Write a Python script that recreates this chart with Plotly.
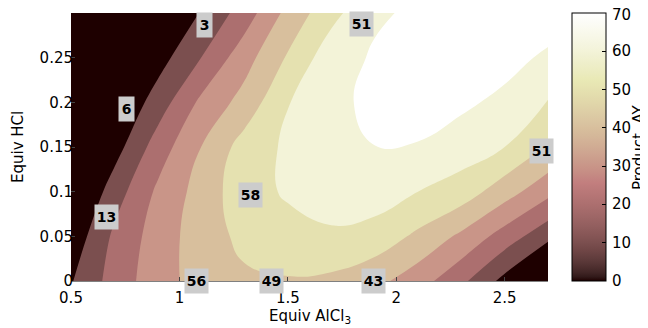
import numpy as np
import plotly.graph_objects as go

# ---- data ----
x_equiv_alcl3 = [0.5, 0.7, 0.9, 1.1, 1.3, 1.5, 1.7, 1.9, 2.1, 2.3, 2.5, 2.7]
y_equiv_hcl = [0.0, 0.05, 0.1, 0.15, 0.2, 0.25, 0.3]
ay_y000 = [9.2, 24.2, 35.8, 44.1, 48.3, 49.2, 47.9, 43.1, 34.5, 22.4, 6.9, -11.9]
ay_y005 = [3.0, 21.9, 34.6, 45.1, 52.5, 56.5, 58.5, 56.0, 48.0, 38.0, 25.7, 13.0]
ay_y010 = [-4.8, 15.2, 31.8, 44.0, 56.0, 61.2, 64.5, 65.0, 60.0, 55.5, 44.5, 33.0]
ay_y015 = [-13.3, 5.7, 24.75, 40.0, 54.3, 61.7, 66.5, 69.9, 69.5, 65.0, 60.0, 49.5]
ay_y020 = [-16.0, -0.8, 14.6, 32.1, 43.7, 59.6, 67.5, 72.3, 73.5, 72.0, 67.5, 59.5]
ay_y025 = [-22.0, -8.5, 5.7, 20.0, 36.0, 51.1, 66.0, 71.0, 74.6, 75.5, 73.7, 68.1]
ay_y030 = [-31.0, -17.0, -3.3, 10.7, 24.7, 43.0, 56.7, 68.7, 71.5, 74.0, 75.5, 76.0]
contour_levels = [10, 20, 30, 40, 50, 60, 70]

label_x = [1.118, 0.754, 0.666, 1.330, 1.081, 1.427, 1.893, 1.838, 2.672]
label_y = [0.287, 0.192, 0.072, 0.096, 0.0, 0.0, 0.0, 0.288, 0.145]
label_text = ["3", "6", "13", "58", "56", "49", "43", "51", "51"]

x_ticks = [0.5, 1, 1.5, 2, 2.5]
y_ticks = [0, 0.05, 0.1, 0.15, 0.2, 0.25]
cbar_ticks = [0, 10, 20, 30, 40, 50, 60, 70]
cmin, cmax = 0, 70

z_grid = [ay_y000, ay_y005, ay_y010, ay_y015, ay_y020, ay_y025, ay_y030]


# ---- MATLAB "pink" colormap ----
def matlab_pink(m=64):
    n = int(3 / 8 * m)
    r_hot = np.r_[np.arange(1, n + 1) / n, np.ones(m - n)]
    g_hot = np.r_[np.zeros(n), np.arange(1, n + 1) / n, np.ones(m - 2 * n)]
    b_hot = np.r_[np.zeros(2 * n), np.arange(1, m - 2 * n + 1) / (m - 2 * n)]
    gray = np.linspace(0, 1, m)
    return np.sqrt((2 * gray[:, None] + np.c_[r_hot, g_hot, b_hot]) / 3)


PINK = matlab_pink(64)


def rgb(c):
    return "rgb(%d,%d,%d)" % tuple(int(round(v * 255)) for v in c)


def pink_at(v):
    idx = int(np.clip(np.floor((v - cmin) / (cmax - cmin) * 64), 0, 63))
    return rgb(PINK[idx])


band_values = [0] + contour_levels
nb = len(band_values)
band_scale = [[i / (nb - 1), pink_at(v)] for i, v in enumerate(band_values)]
cbar_scale = [[i / 63, rgb(PINK[i])] for i in range(64)]

FONT = "DejaVu Sans, Liberation Sans, Arial, sans-serif"

# page has an 8px body margin: figure is 640x320 and sits at (8, 8)
W, H = 640, 320
ML, MT, PW, PH = 63, 5, 477, 268
MR = W - ML - PW
MB = H - MT - PH
CB_LEFT, CB_THICK = 564, 34

fig = go.Figure()
fig.add_trace(go.Contour(
    x=x_equiv_alcl3, y=y_equiv_hcl, z=z_grid,
    contours=dict(start=contour_levels[0], end=contour_levels[-1],
                  size=contour_levels[1] - contour_levels[0],
                  coloring="fill", showlines=False),
    line=dict(width=0, smoothing=1.3),
    colorscale=band_scale, showscale=False, hoverinfo="skip",
))

# dummy trace carrying the continuous colorbar
fig.add_trace(go.Scatter(
    x=[0.6], y=[-1], mode="markers", hoverinfo="skip", showlegend=False,
    marker=dict(color=[0], cmin=cmin, cmax=cmax, colorscale=cbar_scale,
                showscale=True, size=1,
                colorbar=dict(
                    x=(CB_LEFT - ML) / PW, xanchor="left", xref="paper", xpad=0,
                    y=0.5, yanchor="middle", len=1, lenmode="fraction", ypad=0,
                    thickness=CB_THICK, thicknessmode="pixels",
                    outlinecolor="black", outlinewidth=1,
                    tickmode="array", tickvals=cbar_ticks,
                    ticks="inside", ticklen=4, tickcolor="black",
                    showticklabels=False,
                )),
))

# colorbar tick labels (as text next to the bar)
for t in cbar_ticks:
    fig.add_annotation(
        x=(CB_LEFT + CB_THICK + 4 - ML) / PW, y=(t - cmin) / (cmax - cmin),
        xref="paper", yref="paper", text=str(t), showarrow=False,
        xanchor="left", yanchor="middle", yshift=-2 if t == cmax else 0,
        font=dict(family=FONT, size=15, color="black"),
    )

for lx, ly, lt in zip(label_x, label_y, label_text):
    fig.add_annotation(
        x=lx, y=ly, xref="x", yref="y", text="<b>%s</b>" % lt, showarrow=False,
        bgcolor="#cccccc", borderpad=1, width=13 if len(lt) == 1 else 21, height=22,
        font=dict(family=FONT, size=14, color="black"),
        xanchor="center", yanchor="middle",
    )

# axis titles
fig.add_annotation(x=(10 - ML) / PW, y=0.5, xref="paper", yref="paper",
                   text="Equiv HCl", textangle=-90, showarrow=False,
                   font=dict(family=FONT, size=15, color="black"),
                   xanchor="center", yanchor="middle")
fig.add_annotation(x=0.5, y=-(308 - (MT + PH)) / PH, xref="paper", yref="paper",
                   text="Equiv AlCl<sub>3</sub>", showarrow=False,
                   font=dict(family=FONT, size=15, color="black"),
                   xanchor="center", yanchor="middle")
fig.add_annotation(x=(631 - ML) / PW, y=0.5, xref="paper", yref="paper",
                   text="Product, AY", textangle=-90, showarrow=False,
                   font=dict(family=FONT, size=15, color="black"),
                   xanchor="center", yanchor="middle")

fig.update_xaxes(range=[0.5, 2.7], tickvals=x_ticks, ticktext=["0.5", "1", "1.5", "2", "2.5"],
                 ticks="inside", ticklen=4, tickcolor="#444444",
                 showline=True, linecolor="#808080", linewidth=1, mirror=False,
                 showgrid=False, zeroline=False, ticklabelstandoff=3,
                 tickfont=dict(family=FONT, size=15, color="black"))
fig.update_yaxes(range=[0, 0.3], tickvals=y_ticks, ticktext=["0", "0.05", "0.1", "0.15", "0.2", "0.25"],
                 ticks="inside", ticklen=4, tickcolor="#444444",
                 showline=False, showgrid=False, zeroline=False, ticklabelstandoff=-3,
                 tickfont=dict(family=FONT, size=15, color="black"))

fig.update_layout(
    width=W, height=H,
    margin=dict(l=ML, r=MR, t=MT, b=MB, pad=0, autoexpand=False),
    paper_bgcolor="white", plot_bgcolor="white",
    showlegend=False,
)

fig.write_html("out.html")
